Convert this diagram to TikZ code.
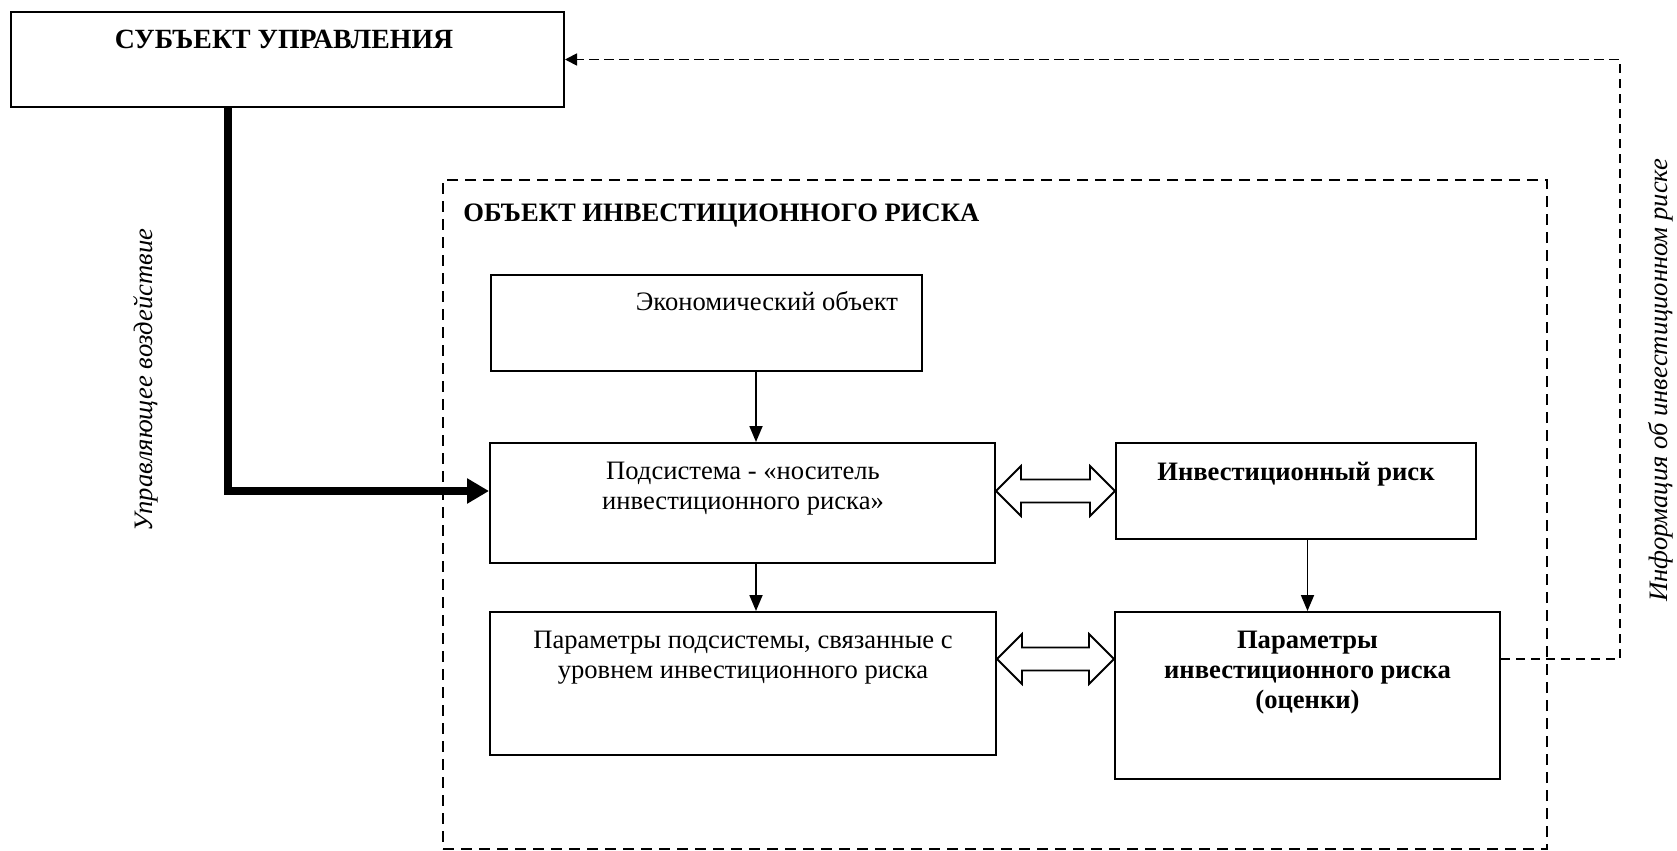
\documentclass[tikz,border=0pt]{standalone}
\usepackage{fontspec}
\setmainfont{Liberation Serif}
\usetikzlibrary{arrows.meta,calc}
% centred lines whose baseline is the baseline of the first line
\newcommand\stacklines[1]{\vtop{\halign{\hfil##\hfil\cr#1\crcr}}}
% hollow two-headed block arrow between two points at the same height
\newcommand\blockarrow[2]{%
  \draw[hollowarrow] let \p1=(#1), \p2=(#2) in
    (\x1,\y1) -- (\x1+12.5pt,\y1+12.5pt) -- (\x1+12.5pt,\y1+5.75pt)
    -- (\x2-12.5pt,\y1+5.75pt) -- (\x2-12.5pt,\y1+12.5pt) -- (\x2,\y1)
    -- (\x2-12.5pt,\y1-12.5pt) -- (\x2-12.5pt,\y1-5.75pt)
    -- (\x1+12.5pt,\y1-5.75pt) -- (\x1+12.5pt,\y1-12.5pt) -- cycle;}
\begin{document}
\begin{tikzpicture}[x=0.5pt,y=-0.5pt,
  every node/.style={font=\fontsize{13.3}{15}\selectfont},
  box/.style={draw, line width=1pt, inner sep=0pt},
  txt/.style={inner sep=0pt, anchor=base},
  objframe/.style={draw, line width=1pt, dash pattern=on 5.5pt off 3.5pt, inner sep=0pt},
  arr/.style={line width=0.9pt, -{Triangle[length=8pt,width=6.5pt]}},
  heavyarrow/.style={line width=4pt, -{Triangle[length=11pt,width=12pt]}},
  feedback/.style={line width=0.9pt, dash pattern=on 4.7pt off 2.8pt, -{Triangle[length=6pt,width=6pt]}},
  hollowarrow/.style={line width=0.9pt, line join=miter, fill=white}
]
\useasboundingbox (0,0) rectangle (1677,851);

% frame of the object of investment risk
\node[objframe, minimum width=552pt, minimum height=334.5pt] (obj) at (995,514.5) {};
\node[txt, anchor=base west, font=\fontsize{13.3}{15}\selectfont\bfseries] (objtitle) at (463,221) {ОБЪЕКТ ИНВЕСТИЦИОННОГО РИСКА};

% boxes
\node[box, minimum width=276.5pt, minimum height=47.5pt] (subj) at (287.5,59.5) {};
\node[box, minimum width=215.5pt, minimum height=48pt] (econ) at (706.5,323) {};
\node[box, minimum width=252.5pt, minimum height=60pt] (sub) at (742.5,503) {};
\node[box, minimum width=180pt, minimum height=48pt] (risk) at (1296,491) {};
\node[box, minimum width=253pt, minimum height=71.5pt] (psub) at (743,683.5) {};
\node[box, minimum width=192.5pt, minimum height=83.5pt] (pinv) at (1307.5,695.5) {};

% box texts
\node[txt, font=\fontsize{13.9}{15}\selectfont\bfseries] (subjtext) at (284,48) {СУБЪЕКТ УПРАВЛЕНИЯ};
\node[txt] (econtext) at (767,310) {Экономический объект};
\node[txt] (subtext) at (743,479) {\stacklines{Подсистема - «носитель\cr инвестиционного риска»}};
\node[txt, font=\fontsize{13.3}{15}\selectfont\bfseries] (risktext) at (1296,480) {Инвестиционный риск};
\node[txt] (psubtext) at (743,648) {\stacklines{Параметры подсистемы, связанные с\cr уровнем инвестиционного риска}};
\node[txt, font=\fontsize{13.3}{15}\selectfont\bfseries] (pinvtext) at (1307.5,648) {\stacklines{Параметры\cr инвестиционного риска\cr (оценки)}};

% side captions
\node[txt, rotate=90, font=\fontsize{13.3}{15}\selectfont\itshape] (ctrl) at (152,380) {Управляющее воздействие};
\node[txt, rotate=90, font=\fontsize{13.3}{15}\selectfont\itshape] (info) at (1667,380) {Информация об инвестиционном риске};

% control action
\coordinate (bend) at (228,491);
\draw[heavyarrow] (subj.south -| bend) -- (bend) -- (bend -| sub.west);

% vertical links
\coordinate (ax) at (756,0);
\draw[arr] (econ.south -| ax) -- (sub.north -| ax);
\draw[arr] (sub.south -| ax) -- (psub.north -| ax);
\draw[arr] (risk.south -| pinv.north) -- (pinv.north);

% two-way links
\blockarrow{sub.east |- risk.west}{risk.west}
\coordinate (lvl) at (0,659);
\blockarrow{psub.east |- lvl}{pinv.west |- lvl}

% information feedback
\coordinate (fb) at (1620,659);
\draw[feedback] (pinv.east |- fb) -- (fb) |- (subj.east);
\end{tikzpicture}
\end{document}
